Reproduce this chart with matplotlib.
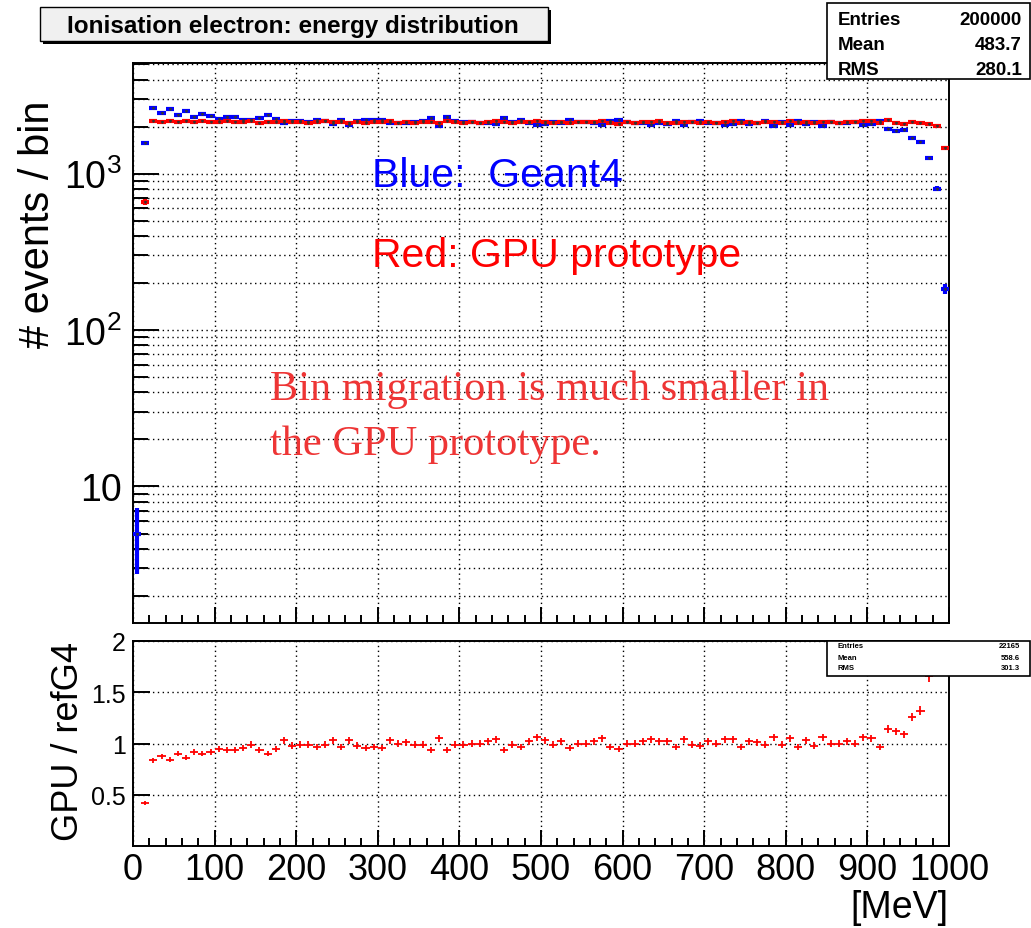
import matplotlib
matplotlib.use("Agg")
import matplotlib.pyplot as plt
import numpy as np
from matplotlib.patches import Rectangle
from matplotlib.ticker import FixedLocator, FixedFormatter, MultipleLocator, NullFormatter

plt.rcParams["font.family"] = ["Liberation Sans", "DejaVu Sans"]
plt.rcParams["mathtext.fontset"] = "custom"
plt.rcParams["mathtext.rm"] = "Liberation Sans"
plt.rcParams["mathtext.it"] = "Liberation Sans:italic"

W, H = 1031, 929

# bin centres, 100 bins of 10 MeV
bin_centers = np.arange(5, 1000, 10)

# GPU prototype counts per bin (red)
gpu_counts = [
    0, 660, 2180, 2150, 2170, 2140, 2160, 2130, 2170, 2150,
    2140, 2160, 2150, 2130, 2170, 2120, 2150, 2140, 2160, 2130,
    2150, 2120, 2140, 2160, 2130, 2150, 2120, 2140, 2110, 2150,
    2130, 2160, 2120, 2140, 2110, 2150, 2130, 2120, 2160, 2140,
    2120, 2150, 2110, 2140, 2160, 2130, 2120, 2150, 2140, 2170,
    2130, 2110, 2150, 2120, 2140, 2130, 2150, 2160, 2110, 2090,
    2140, 2120, 2150, 2130, 2160, 2120, 2110, 2140, 2130, 2120,
    2150, 2120, 2140, 2160, 2110, 2130, 2120, 2140, 2150, 2110,
    2160, 2120, 2140, 2110, 2150, 2130, 2120, 2150, 2140, 2160,
    2170, 2100, 2190, 2110, 2080, 2130, 2110, 2090, 2030, 1466,
]

# GPU / Geant4 ratio per bin (first bin has no GPU entries)
ratio_vals = [
    np.nan, 0.42, 0.835, 0.875, 0.84, 0.90, 0.86, 0.92, 0.90, 0.92,
    0.95, 0.94, 0.94, 0.96, 0.99, 0.94, 0.90, 0.95, 1.03, 0.98,
    0.99, 0.99, 0.97, 0.99, 1.03, 0.97, 1.03, 0.98, 0.96, 0.97,
    0.96, 1.03, 1.00, 1.01, 0.99, 0.99, 0.94, 1.05, 0.94, 0.99,
    0.99, 1.00, 1.00, 1.02, 1.04, 0.94, 0.99, 0.97, 1.02, 1.06,
    1.03, 0.99, 1.02, 0.96, 1.00, 1.00, 1.02, 1.05, 0.97, 0.95,
    1.00, 1.00, 1.02, 1.04, 1.02, 1.02, 0.97, 1.04, 0.99, 0.98,
    1.02, 1.00, 1.04, 1.04, 0.97, 1.02, 1.01, 0.99, 1.06, 0.99,
    1.05, 0.97, 1.03, 0.98, 1.06, 1.00, 1.00, 1.02, 1.00, 1.06,
    1.05, 0.97, 1.14, 1.12, 1.09, 1.26, 1.32, 1.66, 2.53, 7.97,
]
g4_first_bin = 5

gpu = np.array(gpu_counts, dtype=float)
ratio = np.array(ratio_vals, dtype=float)
g4 = np.where(np.isnan(ratio), g4_first_bin, gpu / ratio)

fig = plt.figure(figsize=(W / 100, H / 100), dpi=100)
fig.patch.set_facecolor("white")

ax1 = fig.add_axes([133 / W, 1 - 624 / H, (949 - 133) / W, (624 - 64) / H])
ax2 = fig.add_axes([133 / W, 1 - 847 / H, (949 - 133) / W, (847 - 642) / H])

dot = (0, (1, 2.5))

# ---- upper panel
for counts, col in ((g4, "blue"), (gpu, "red")):
    m = counts > 0
    ax1.errorbar(bin_centers[m], counts[m], xerr=5, yerr=np.sqrt(counts[m]),
                 fmt="none", ecolor=col, elinewidth=3.0, capsize=0, zorder=3)
    ax1.plot(bin_centers[m], counts[m], "v", color="#333333", ms=1.3, zorder=4)

ax1.set_yscale("log")
ax1.set_xlim(0, 1000)
ax1.set_ylim(1.34, 5100)
ax1.yaxis.set_major_locator(FixedLocator([10, 100, 1000]))
ax1.yaxis.set_major_formatter(FixedFormatter(["10", "$10^{2}$", "$10^{3}$"]))
minors = [k * 10 ** e for e in range(0, 4) for k in range(2, 10)]
ax1.yaxis.set_minor_locator(FixedLocator(minors))
ax1.yaxis.set_minor_formatter(NullFormatter())
ax1.xaxis.set_major_locator(MultipleLocator(100))
ax1.xaxis.set_minor_locator(MultipleLocator(20))
ax1.tick_params(axis="x", which="both", direction="in", labelbottom=False)
ax1.tick_params(axis="x", which="major", length=11.5, width=1.4)
ax1.tick_params(axis="x", which="minor", length=5.8, width=1.4)
ax1.tick_params(axis="y", which="major", direction="in", length=19, width=1.4,
                labelsize=27, pad=8)
ax1.tick_params(axis="y", which="minor", direction="in", length=11, width=1.4)
ax1.grid(True, axis="y", which="both", color="black", lw=1, ls=dot)
ax1.grid(True, axis="x", which="major", color="black", lw=1, ls=dot)

# ---- ratio panel
r_err = ratio * np.sqrt(1 / np.maximum(gpu, 1) + 1 / g4)
ax2.errorbar(bin_centers, ratio, xerr=5, yerr=r_err, fmt="none",
             ecolor="red", elinewidth=1.3, capsize=0, zorder=3)
ax2.set_xlim(0, 1000)
ax2.set_ylim(0, 2)
ax2.yaxis.set_major_locator(FixedLocator([0.5, 1, 1.5, 2]))
ax2.yaxis.set_major_formatter(FixedFormatter(["0.5", "1", "1.5", "2"]))
ax2.xaxis.set_major_locator(MultipleLocator(100))
ax2.xaxis.set_minor_locator(MultipleLocator(20))
ax2.tick_params(axis="x", which="major", direction="in", length=11.5, width=1.4,
                labelsize=26, pad=4)
ax2.tick_params(axis="x", which="minor", direction="in", length=5.8, width=1.4)
ax2.tick_params(axis="y", which="major", direction="in", length=12, width=1.4,
                labelsize=18, pad=5)
ax2.grid(True, which="major", color="black", lw=1, ls=dot)

for ax in (ax1, ax2):
    for sp in ax.spines.values():
        sp.set_linewidth(1.4)

# ---- overlay in pixel coordinates for ROOT-style boxes and labels
ov = fig.add_axes([0, 0, 1, 1], zorder=10)
ov.set_xlim(0, W)
ov.set_ylim(H, 0)
ov.axis("off")
ov.patch.set_alpha(0)

ov.add_patch(Rectangle((43, 11), 508, 34, facecolor="black", lw=0))
ov.add_patch(Rectangle((40, 8), 508, 34, facecolor="#f0f0f0", edgecolor="black", lw=1))
ov.text(293, 26, "Ionisation electron: energy distribution", ha="center", va="center",
        fontsize=17.5, fontweight="bold")

ov.add_patch(Rectangle((827, 4), 203, 76, facecolor="white", edgecolor="black", lw=1.2))
for yy, lab, val in ((20, "Entries", "200000"), (45, "Mean", "483.7"), (70, "RMS", "280.1")):
    ov.text(838, yy, lab, ha="left", va="center", fontsize=13.5, fontweight="bold")
    ov.text(1022, yy, val, ha="right", va="center", fontsize=13.5, fontweight="bold")

ov.add_patch(Rectangle((827, 642), 203, 35, facecolor="white", edgecolor="black", lw=1.2))
for yy, lab, val in ((647, "Entries", "22165"), (658, "Mean", "558.6"), (669, "RMS", "301.3")):
    ov.text(838, yy, lab, ha="left", va="center", fontsize=5.5, fontweight="bold")
    ov.text(1020, yy, val, ha="right", va="center", fontsize=5.5, fontweight="bold")

ov.text(372, 187, "Blue:  Geant4", color="blue", fontsize=29.5, va="baseline")
ov.text(372, 267, "Red: GPU prototype", color="red", fontsize=29.5, va="baseline")
ov.text(270, 400, "Bin migration is much smaller in", color="#ee3535", fontsize=30.5,
        family="Liberation Serif", va="baseline")
ov.text(270, 455, "the GPU prototype.", color="#ee3535", fontsize=30.5,
        family="Liberation Serif", va="baseline")

ov.text(38, 100, "# events / bin", rotation=90, ha="center", va="top", fontsize=30)
ov.text(68, 642, "GPU / refG4", rotation=90, ha="center", va="top", fontsize=26)
ov.text(948, 918, "[MeV]", ha="right", va="baseline", fontsize=27)

fig.savefig("out.png", dpi=100)
